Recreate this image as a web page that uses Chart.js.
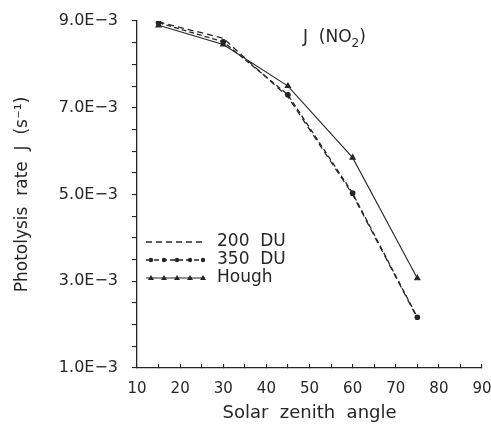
<!DOCTYPE html>
<html>
<head>
<meta charset="utf-8">
<script src="https://cdn.jsdelivr.net/npm/chart.js@4.4.0/dist/chart.umd.min.js"></script>
<style>
  html, body { margin: 0; padding: 0; background: #fff; }
  #wrap { width: 491px; height: 427px; }
</style>
</head>
<body>
<div id="wrap"><canvas id="jChart"></canvas></div>
<script>
// solar zenith angles (deg) and J(NO2) photolysis rates in units of 1e-3 s^-1
const angles = [15, 30, 45, 60, 75];
const du200 = [8.98, 8.60, 7.25, 5.00, 2.15];
const du350 = [8.96, 8.52, 7.30, 5.03, 2.17];
const hough = [8.90, 8.46, 7.50, 5.85, 3.07];
const seriesNames = ['200  DU', '350  DU', 'Hough'];
const yLabelValues = [1, 3, 5, 7, 9];

const INK = '#262626';
const FONT = "'DejaVu Sans', sans-serif";

function toPoints(vals) {
    return angles.map((a, i) => ({ x: a, y: vals[i] * 1e-3 }));
}

// legend drawn inside the plot, lower left
const insideLegend = {
    id: 'insideLegend',
    afterDatasetsDraw(chart) {
        const ctx = chart.ctx;
        const x0 = 146, x1 = 205, tx = 217;
        const rows = [242, 260, 278];
        chart.data.datasets.forEach((ds, i) => {
            const y = rows[i];
            ctx.save();
            ctx.strokeStyle = INK;
            ctx.lineWidth = ds.borderWidth;
            ctx.setLineDash(ds.borderDash || []);
            ctx.beginPath();
            ctx.moveTo(x0, y);
            ctx.lineTo(x1, y);
            ctx.stroke();
            ctx.setLineDash([]);
            if (ds.pointRadius > 0) {
                for (let k = 0; k < 5; k++) {
                    const px = x0 + 5 + k * 13;
                    ctx.fillStyle = INK;
                    ctx.beginPath();
                    if (ds.pointStyle === 'triangle') {
                        ctx.moveTo(px, y - 3);
                        ctx.lineTo(px + 3, y + 2);
                        ctx.lineTo(px - 3, y + 2);
                        ctx.closePath();
                    } else {
                        ctx.arc(px, y, 2.2, 0, Math.PI * 2);
                    }
                    ctx.fill();
                }
            }
            ctx.fillStyle = INK;
            ctx.font = '17px ' + FONT;
            ctx.textBaseline = 'middle';
            ctx.fillText(ds.label, tx, y);
            ctx.restore();
        });
    }
};

// species label with subscript
const speciesLabel = {
    id: 'speciesLabel',
    afterDraw(chart) {
        const ctx = chart.ctx;
        ctx.save();
        ctx.fillStyle = INK;
        ctx.textBaseline = 'alphabetic';
        ctx.font = '17px ' + FONT;
        let x = 303;
        const y = 42;
        const main = 'J  (NO';
        ctx.fillText(main, x, y);
        x += ctx.measureText(main).width;
        ctx.font = '12px ' + FONT;
        ctx.fillText('2', x, y + 5);
        x += ctx.measureText('2').width;
        ctx.font = '17px ' + FONT;
        ctx.fillText(')', x, y);
        ctx.restore();
    }
};

new Chart(document.getElementById('jChart'), {
    type: 'line',
    data: {
        datasets: [
            {
                label: seriesNames[0],
                data: toPoints(du200),
                borderColor: INK,
                borderWidth: 1.3,
                borderDash: [6, 4],
                pointRadius: 0,
                tension: 0
            },
            {
                label: seriesNames[1],
                data: toPoints(du350),
                borderColor: INK,
                backgroundColor: INK,
                borderWidth: 1.3,
                borderDash: [5, 3],
                pointRadius: 2.2,
                pointStyle: 'circle',
                tension: 0
            },
            {
                label: seriesNames[2],
                data: toPoints(hough),
                borderColor: INK,
                backgroundColor: INK,
                borderWidth: 1.1,
                pointRadius: 3,
                pointStyle: 'triangle',
                tension: 0
            }
        ]
    },
    options: {
        responsive: true,
        maintainAspectRatio: false,
        animation: false,
        layout: { padding: { top: 21, right: 9, left: 0, bottom: 0 } },
        plugins: {
            legend: { display: false },
            tooltip: { enabled: false }
        },
        scales: {
            x: {
                type: 'linear',
                min: 10,
                max: 90,
                border: { display: true, color: INK, width: 1.3 },
                grid: { drawOnChartArea: false, color: INK, tickLength: -4, lineWidth: 1.1 },
                ticks: {
                    stepSize: 5,
                    padding: 16,
                    color: INK,
                    font: { family: FONT, size: 15 },
                    maxRotation: 0,
                    autoSkip: false,
                    callback: v => (v % 10 === 0 ? String(v) : '')
                },
                title: {
                    display: true,
                    text: 'Solar  zenith  angle',
                    color: INK,
                    font: { family: FONT, size: 18 },
                    padding: { top: 0, bottom: 3 }
                },
                afterFit(scale) {
                    scale.height = 59;
                    scale.paddingLeft = 0;
                    scale.paddingRight = 0;
                }
            },
            y: {
                type: 'linear',
                min: 1e-3,
                max: 9e-3,
                border: { display: true, color: INK, width: 1.3 },
                grid: { drawOnChartArea: false, color: INK, tickLength: 5, lineWidth: 1.1 },
                ticks: {
                    stepSize: 0.5e-3,
                    padding: 14,
                    color: INK,
                    font: { family: FONT, size: 16 },
                    autoSkip: false,
                    callback: v => {
                        const m = Math.round(v * 1e3 * 2) / 2;
                        return yLabelValues.includes(m) ? m.toFixed(1) + 'E\u22123' : '';
                    }
                },
                title: {
                    display: true,
                    text: 'Photolysis  rate  J  (s\u207B\u00B9)',
                    color: INK,
                    font: { family: FONT, size: 17 },
                    padding: { top: 12, bottom: 0 }
                },
                afterFit(scale) {
                    scale.width = 137;
                    scale.paddingTop = 0;
                    scale.paddingBottom = 0;
                }
            }
        }
    },
    plugins: [insideLegend, speciesLabel]
});
</script>
</body>
</html>
